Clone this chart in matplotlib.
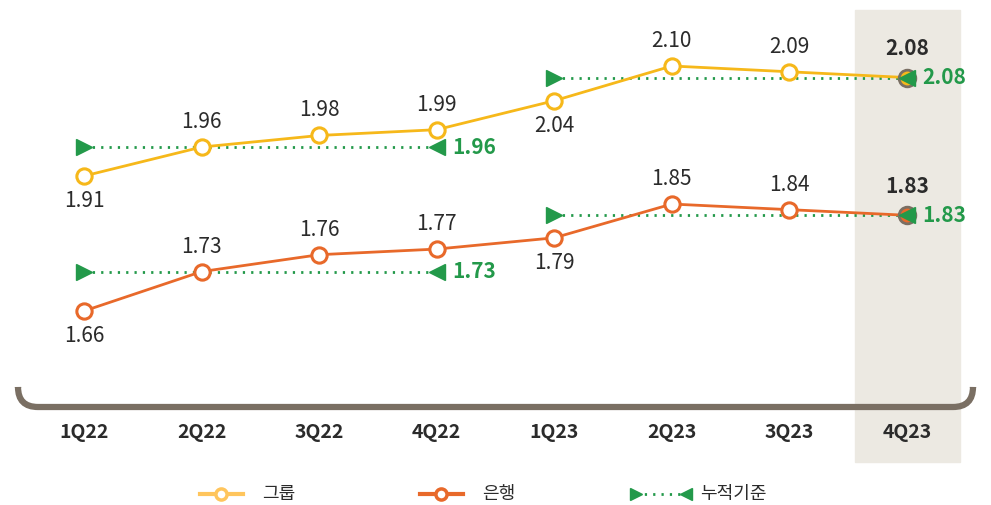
import matplotlib.pyplot as plt
from matplotlib.lines import Line2D
from matplotlib.patches import Rectangle, PathPatch
from matplotlib.path import Path

plt.rcParams['font.family'] = ['Noto Sans CJK KR', 'DejaVu Sans']

# data
quarters = ['1Q22', '2Q22', '3Q22', '4Q22', '1Q23', '2Q23', '3Q23', '4Q23']
group = [1.91, 1.96, 1.98, 1.99, 2.04, 2.10, 2.09, 2.08]
bank = [1.66, 1.73, 1.76, 1.77, 1.79, 1.85, 1.84, 1.83]
# cumulative basis (yearly), drawn from first to last quarter of each year
cum_idx = [(0, 3), (4, 7)]
cum_group = [1.96, 2.08]
cum_bank = [1.73, 1.83]
group_below = [0, 4]   # labels put under the point
bank_below = [0, 4]

YEL = '#F6B81A'
ORG = '#E8692A'
GRN = '#23994A'
GRY = '#7A6F63'
TXT = '#2b2b2b'

fig = plt.figure(figsize=(9.91, 5.05), dpi=100)
W, H = 991, 505
ax = fig.add_axes([0, 0, 1, 1])
ax2 = ax.twinx()
ax.set_xlim(-84 / 117.57, (W - 84) / 117.57)
ax.set_ylim(1.91 - (H - 176) / 579, 1.91 + 176 / 579)
ax2.set_ylim(1.66 - (H - 311) / 563, 1.66 + 311 / 563)
for a in (ax, ax2):
    a.axis('off')

# highlight band for last quarter
fig.add_artist(Rectangle((855 / W, 1 - 462 / H), 105 / W, 452 / H,
                         transform=fig.transFigure, color='#ECE9E2', zorder=0))

# bracket under the chart
x0, x1, yt, yb, r = 18 / W, 973 / W, 1 - 388 / H, 1 - 407 / H, 20
rx, ry = r / W, r / H
verts = [(x0, yt), (x0, yb + ry), (x0, yb), (x0 + rx, yb), (x1 - rx, yb),
         (x1, yb), (x1, yb + ry), (x1, yt)]
codes = [Path.MOVETO, Path.LINETO, Path.CURVE3, Path.CURVE3, Path.LINETO,
         Path.CURVE3, Path.CURVE3, Path.LINETO]
fig.add_artist(PathPatch(Path(verts, codes), transform=fig.transFigure,
                         fill=False, ec=GRY, lw=4.5, capstyle='butt'))

x = list(range(len(quarters)))
last = len(quarters) - 1


def draw_series(a, vals, color, below, cum_vals):
    a.plot(x, vals, color=color, lw=2, zorder=3)
    a.plot(x[:last], vals[:last], 'o', ms=11, mfc='white', mec=color, mew=2.2, zorder=4)
    a.plot(x[last], vals[last], 'o', ms=12, mfc=color, mec=GRY, mew=2, zorder=4)
    for i, v in enumerate(vals):
        off = -25 if i in below else 25
        if i == last:
            off = 29
        a.annotate(f'{v:.2f}', (i, v), xytext=(0, off * 0.72), textcoords='offset points',
                   ha='center', va='center', fontsize=15, color=TXT,
                   fontweight='bold' if i == last else 'normal', zorder=6)
    for (s, e), cv in zip(cum_idx, cum_vals):
        a.plot([s, e], [cv, cv], color=GRN, lw=2, ls=(0, (0.8, 2.2)), zorder=2)
        a.plot(s, cv, '>', ms=11, color=GRN, zorder=5)
        a.plot(e, cv, '<', ms=11, color=GRN, zorder=5)
        a.annotate(f'{cv:.2f}', (e, cv), xytext=(11, 0), textcoords='offset points',
                   ha='left', va='center', fontsize=15, color=GRN, fontweight='bold', zorder=6)


draw_series(ax, group, YEL, group_below, cum_group)
draw_series(ax2, bank, ORG, bank_below, cum_bank)

for i, q in enumerate(quarters):
    ax.text(i, 1 - 432 / H, q, transform=ax.get_xaxis_transform(), ha='center', va='center',
            fontsize=14, fontweight='bold', color=TXT)

# legend drawn by hand
ly = 1 - 494 / H
fig.add_artist(Line2D([200 / W, 243 / W], [ly, ly], color='#FFC55C', lw=3, transform=fig.transFigure))
fig.add_artist(Line2D([221 / W], [ly], marker='o', ms=8, mfc='white', mec='#FFC55C', mew=2.5,
                      transform=fig.transFigure))
fig.text(262 / W, ly, '그룹', ha='left', va='center', fontsize=13, color=TXT)
fig.add_artist(Line2D([420 / W, 463 / W], [ly, ly], color=ORG, lw=3, transform=fig.transFigure))
fig.add_artist(Line2D([441 / W], [ly], marker='o', ms=8, mfc='white', mec=ORG, mew=2.5,
                      transform=fig.transFigure))
fig.text(482 / W, ly, '은행', ha='left', va='center', fontsize=13, color=TXT)
fig.add_artist(Line2D([636 / W, 686 / W], [ly, ly], color=GRN, lw=2, ls=(0, (0.8, 2.2)),
                      transform=fig.transFigure))
fig.add_artist(Line2D([636 / W], [ly], marker='>', ms=8, color=GRN, transform=fig.transFigure))
fig.add_artist(Line2D([686 / W], [ly], marker='<', ms=8, color=GRN, transform=fig.transFigure))
fig.text(700 / W, ly, '누적기준', ha='left', va='center', fontsize=13, color=TXT)

fig.savefig('out.png', dpi=100)
